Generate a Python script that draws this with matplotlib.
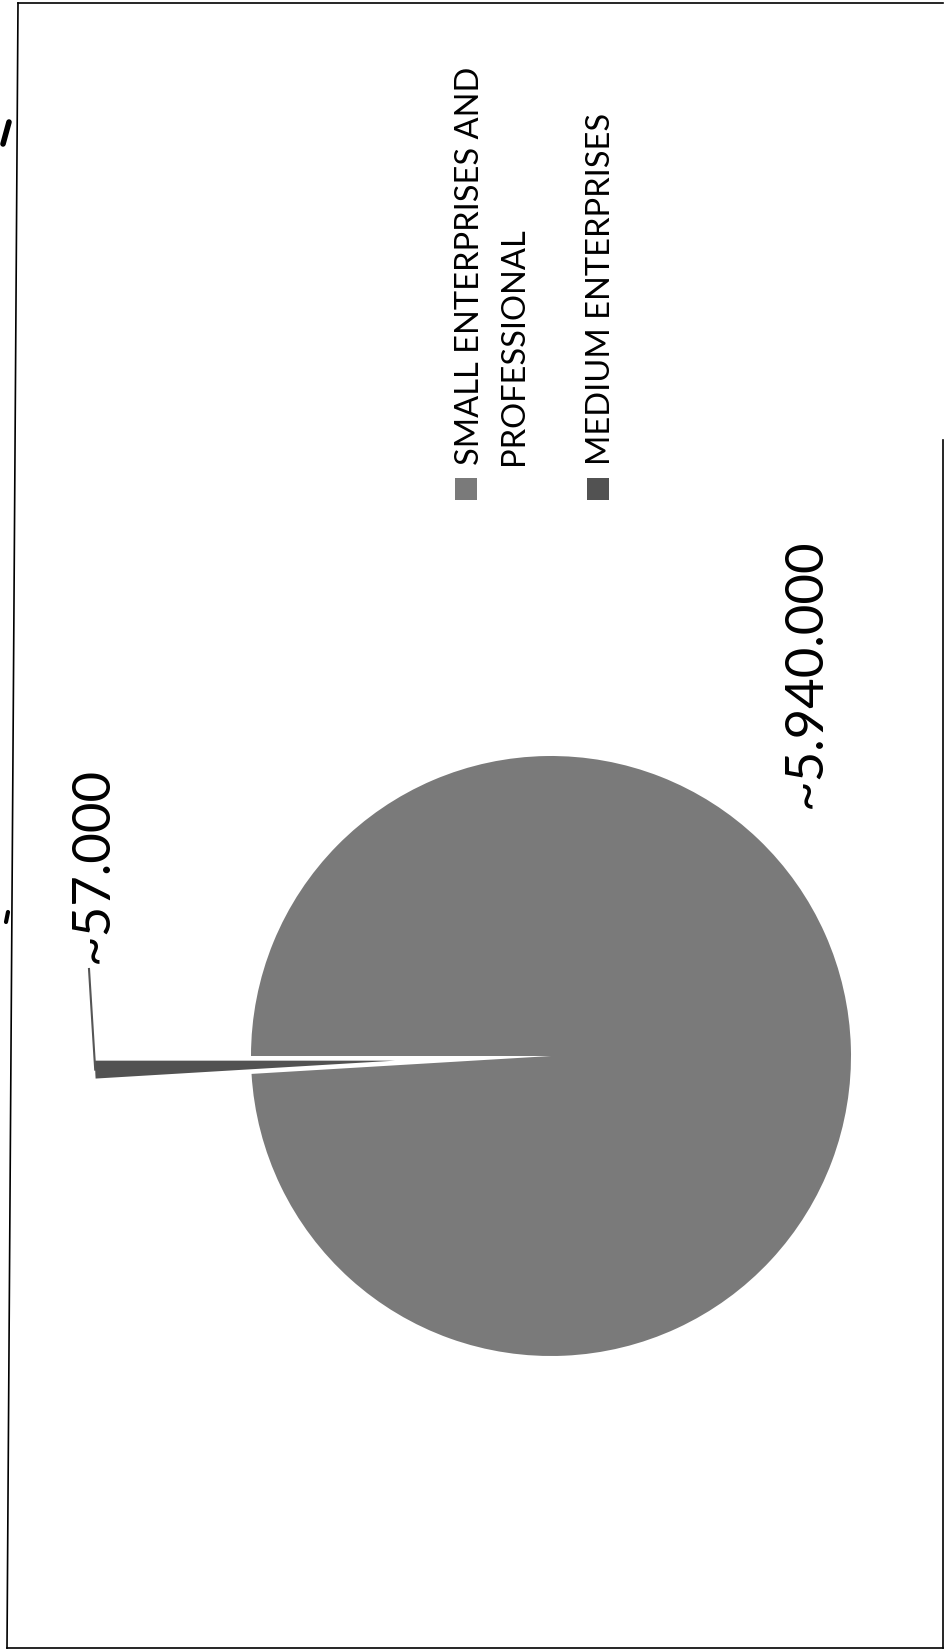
import numpy as np
import matplotlib
matplotlib.use("Agg")
import matplotlib.pyplot as plt
from matplotlib.patches import Rectangle

# data
categories = ["SMALL ENTERPRISES AND\nPROFESSIONAL", "MEDIUM ENTERPRISES"]
values = [5940000, 57000]
value_labels = ["~5.940.000", "~57.000"]
colors = ["#7a7a7a", "#525252"]

plt.rcParams['font.family'] = ['Lato', 'DejaVu Sans']

W, H = 945, 1651
cx, cy, r = 551, 1056, 300   # pie centre / radius in pixels (image is rotated 90 deg)


def px(x, y):
    # pixel (from top-left) -> data coords
    return (x - cx) / r, (cy - y) / r


fig = plt.figure(figsize=(W / 100, H / 100), dpi=100)
ax = fig.add_axes([0, 0, 1, 1])

wedges, _ = ax.pie(values, startangle=180, counterclock=False,
                   explode=[0, 0.52], colors=colors, radius=1,
                   wedgeprops=dict(linewidth=0))
ax.set_xlim(-cx / r, (W - cx) / r)
ax.set_ylim(-(H - cy) / r, cy / r)
ax.set_aspect('auto')
ax.axis('off')

# labels, rotated like the scan
ax.text(*px(806, 673), value_labels[0], rotation=90, fontsize=38,
        ha='center', va='center')
ax.text(*px(93, 865), value_labels[1], rotation=90, fontsize=38,
        ha='center', va='center')

# leader line for the small slice
w = wedges[1]
mid = np.deg2rad((w.theta1 + w.theta2) / 2)
ox, oy = w.center
edge = (ox + np.cos(mid) * w.r, oy + np.sin(mid) * w.r)
lx, ly = px(89, 969)
ax.plot([edge[0], edge[0], lx], [edge[1], edge[1], ly], color="#555555", lw=1.5)

# legend, drawn rotated
sw = 22 / r
for i, (xs, xt) in enumerate([(455, [470, 514]), (587, [601])]):
    x0, y0 = px(xs, 500)
    ax.add_patch(Rectangle((x0, y0), sw, sw, color=colors[i], lw=0))
    for line, xx in zip(categories[i].split("\n"), xt):
        ax.text(*px(xx, 465), line, rotation=90, rotation_mode='anchor',
                fontsize=23.5, ha='left', va='center')

# scan frame
for (x1, y1), (x2, y2) in [((18, 3), (943, 3)), ((18, 3), (7, 1648)),
                           ((7, 1648), (943, 1648)), ((943, 440), (943, 1648))]:
    a, b = px(x1, y1)
    c, d = px(x2, y2)
    ax.plot([a, c], [b, d], color="black", lw=1.2)

# bits of cut-off title text at the left edge of the scan
for (x1, y1), (x2, y2), lw in [((9, 122), (3, 144), 4), ((8, 912), (6, 922), 3)]:
    a, b = px(x1, y1)
    c, d = px(x2, y2)
    ax.plot([a, c], [b, d], color="black", lw=lw, solid_capstyle='round')

fig.savefig("out.png", dpi=100)
